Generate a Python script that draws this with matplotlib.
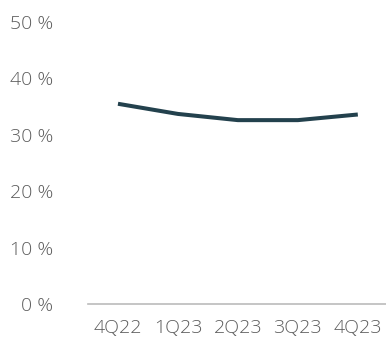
import matplotlib
matplotlib.use("Agg")
import matplotlib.pyplot as plt
from matplotlib.ticker import FuncFormatter

# quarterly share, percent
quarters = ["4Q22", "1Q23", "2Q23", "3Q23", "4Q23"]
share = [35.5, 33.7, 32.6, 32.6, 33.6]
y_ticks = [0, 10, 20, 30, 40, 50]

plt.rcParams['font.family'] = ['Open Sans', 'DejaVu Sans']
plt.rcParams['font.weight'] = 'light'

fig = plt.figure(figsize=(3.86, 3.41), dpi=100)
ax = fig.add_axes([88 / 386, 37 / 341, 1 - 88 / 386, 282 / 341])

x = list(range(len(quarters)))
ax.plot(x, share, color='#23414d', lw=2.9, solid_capstyle='butt')

ax.set_xlim(-0.5, 4.47)
ax.set_ylim(0, 50)
ax.set_yticks(y_ticks)
ax.yaxis.set_major_formatter(FuncFormatter(lambda v, p: f"{int(v)} %"))
ax.set_xticks(x)
ax.set_xticklabels(quarters)

for s in ['top', 'right', 'left']:
    ax.spines[s].set_visible(False)
ax.spines['bottom'].set_color('#bbbbbb')
ax.spines['bottom'].set_linewidth(1.2)

ax.tick_params(axis='y', length=0, pad=25, labelsize=14, labelcolor='#5c5c5c')
ax.tick_params(axis='x', length=0, pad=11, labelsize=14, labelcolor='#5c5c5c')

fig.savefig("out.png", dpi=100)
